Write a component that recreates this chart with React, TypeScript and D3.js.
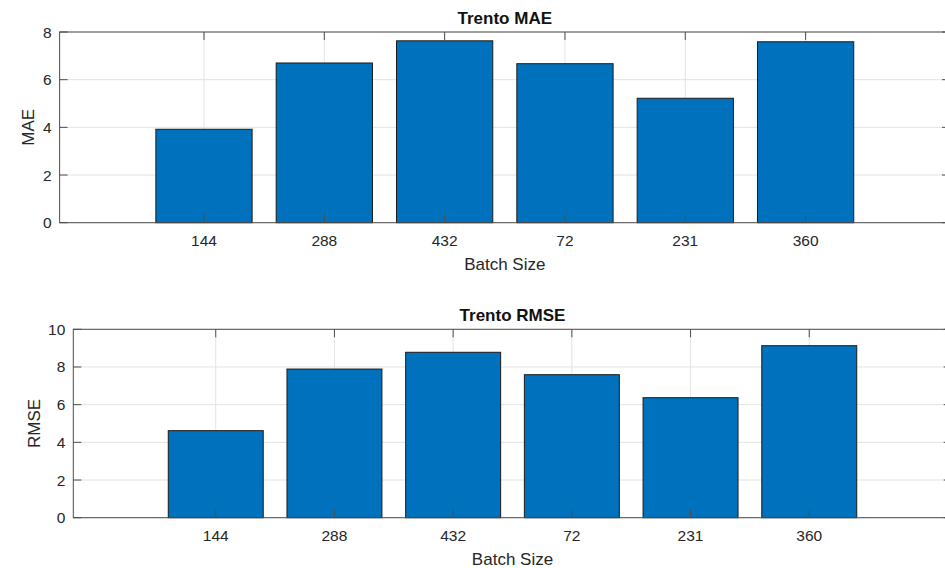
import React from "react";
import * as d3 from "d3";

const categories = ["144", "288", "432", "72", "231", "360"];
const maeValues = [3.92, 6.7, 7.63, 6.67, 5.22, 7.59];
const rmseValues = [4.62, 7.89, 8.78, 7.59, 6.37, 9.13];
const maeTicks = [0, 2, 4, 6, 8];
const rmseTicks = [0, 2, 4, 6, 8, 10];

const FONT = "'Liberation Sans', Arial, Helvetica, sans-serif";
const TEXT = "#262626";

type PanelProps = {
  title: string;
  ylabel: string;
  values: number[];
  ticks: number[];
  ymax: number;
  left: number;
  right: number;
  top: number;
  bottom: number;
  ylabelX: number;
};

function Panel(p: PanelProps) {
  const x = d3
    .scaleBand<string>()
    .domain(categories)
    .range([p.left, p.right])
    .paddingInner(0.2)
    .paddingOuter(0.8);
  const y = d3.scaleLinear().domain([0, p.ymax]).range([p.bottom, p.top]);
  const bw = x.bandwidth();
  const tl = 8;
  const cx = (p.left + p.right) / 2;
  return (
    <g>
      {/* grid */}
      {p.ticks.map((t) => (
        <line key={"gy" + t} x1={p.left} x2={p.right} y1={y(t)} y2={y(t)} stroke="#e3e3e3" strokeWidth={1} />
      ))}
      {categories.map((c) => (
        <line key={"gx" + c} x1={x(c)! + bw / 2} x2={x(c)! + bw / 2} y1={p.top} y2={p.bottom} stroke="#e3e3e3" strokeWidth={1} />
      ))}
      {/* bars */}
      {categories.map((c, i) => (
        <rect
          key={"b" + c}
          x={x(c)!}
          y={y(p.values[i])}
          width={bw}
          height={y(0) - y(p.values[i])}
          fill="#0072BD"
          stroke="#1a1a1a"
          strokeWidth={1}
        />
      ))}
      {/* axes box */}
      <rect x={p.left} y={p.top} width={p.right - p.left} height={p.bottom - p.top} fill="none" stroke="#4d4d4d" strokeWidth={1} />
      {/* x ticks */}
      {categories.map((c) => {
        const xc = x(c)! + bw / 2;
        return (
          <g key={"tx" + c}>
            <line x1={xc} x2={xc} y1={p.bottom} y2={p.bottom - tl} stroke="#4d4d4d" />
            <line x1={xc} x2={xc} y1={p.top} y2={p.top + tl} stroke="#4d4d4d" />
            <text x={xc} y={p.bottom + 23.5} textAnchor="middle" fontFamily={FONT} fontSize={15.5} fill={TEXT}>
              {c}
            </text>
          </g>
        );
      })}
      {/* y ticks */}
      {p.ticks.map((t) => (
        <g key={"ty" + t}>
          <line x1={p.left} x2={p.left + tl} y1={y(t)} y2={y(t)} stroke="#4d4d4d" />
          <line x1={p.right} x2={p.right - tl} y1={y(t)} y2={y(t)} stroke="#4d4d4d" />
          <text x={p.left - 8} y={y(t) + 5.5} textAnchor="end" fontFamily={FONT} fontSize={15.5} fill={TEXT}>
            {t}
          </text>
        </g>
      ))}
      <text x={cx} y={p.top - 8.5} textAnchor="middle" fontFamily={FONT} fontSize={17} fontWeight="bold" fill="#111">
        {p.title}
      </text>
      <text x={cx} y={p.bottom + 47} textAnchor="middle" fontFamily={FONT} fontSize={17} fill={TEXT}>
        Batch Size
      </text>
      <text
        transform={`translate(${p.ylabelX},${(p.top + p.bottom) / 2}) rotate(-90)`}
        textAnchor="middle"
        fontFamily={FONT}
        fontSize={17}
        fill={TEXT}
      >
        {p.ylabel}
      </text>
    </g>
  );
}

export default function App() {
  return (
    <svg
      width={945}
      height={568}
      style={{ position: "absolute", left: 0, top: 0, background: "#fff" }}
    >
      <rect x={0} y={0} width={945} height={568} fill="#fff" />
      <Panel
        title="Trento MAE"
        ylabel="MAE"
        values={maeValues}
        ticks={maeTicks}
        ymax={8}
        left={59.6}
        right={950}
        top={32}
        bottom={222.7}
        ylabelX={34}
      />
      <Panel
        title="Trento RMSE"
        ylabel="RMSE"
        values={rmseValues}
        ticks={rmseTicks}
        ymax={10}
        left={73.3}
        right={951.7}
        top={329.3}
        bottom={517.7}
        ylabelX={40}
      />
    </svg>
  );
}
